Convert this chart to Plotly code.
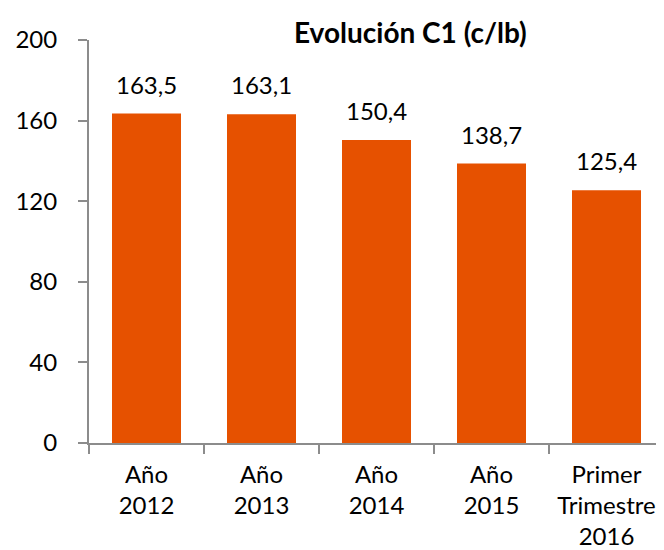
import plotly.graph_objects as go

categories = ["Año<br>2012", "Año<br>2013", "Año<br>2014", "Año<br>2015", "Primer<br>Trimestre<br>2016"]
values = [163.5, 163.1, 150.4, 138.7, 125.4]
labels = ["163,5", "163,1", "150,4", "138,7", "125,4"]
y_ticks = [0, 40, 80, 120, 160, 200]
title = "Evolución C1 (c/lb)"

FONT = "Lato"
AXIS = "#8c8c8c"

# the page body has an 8px margin, so the figure is 8px smaller than the window
fig = go.Figure()
fig.add_trace(go.Bar(x=categories, y=values, marker=dict(color="#E65100", line=dict(width=0)),
                     width=0.6, hoverinfo="skip"))

for c, v, t in zip(categories, values, labels):
    fig.add_annotation(x=c, y=v, text=t, showarrow=False, yanchor="bottom", yshift=13,
                       font=dict(family=FONT, size=24, color="#000"))

fig.add_annotation(xref="paper", yref="paper", x=(410 - 89) / 575, y=(443 - 32) / 403,
                   text="<b>" + title + "</b>", showarrow=False, xanchor="center", yanchor="middle",
                   font=dict(family=FONT, size=28, color="#000"))

fig.update_layout(
    width=656, height=542,
    margin=dict(l=81, r=0, t=32, b=107),
    paper_bgcolor="white", plot_bgcolor="white",
    showlegend=False,
    font=dict(family=FONT, size=24, color="#000"),
)
fig.update_xaxes(type="category", showline=True, linecolor=AXIS, linewidth=2,
                 ticks="outside", tickson="boundaries", ticklen=9, tickcolor=AXIS, tickwidth=2,
                 showgrid=False, ticklabelstandoff=9, automargin=False,
                 tickfont=dict(family=FONT, size=24))
fig.update_yaxes(range=[0, 200], tickvals=y_ticks, showline=True, linecolor=AXIS, linewidth=2,
                 ticks="outside", ticklen=9, tickcolor=AXIS, tickwidth=2, showgrid=False,
                 zeroline=False, ticklabelstandoff=16, automargin=False,
                 tickfont=dict(family=FONT, size=24))

fig.write_html("out.html")
